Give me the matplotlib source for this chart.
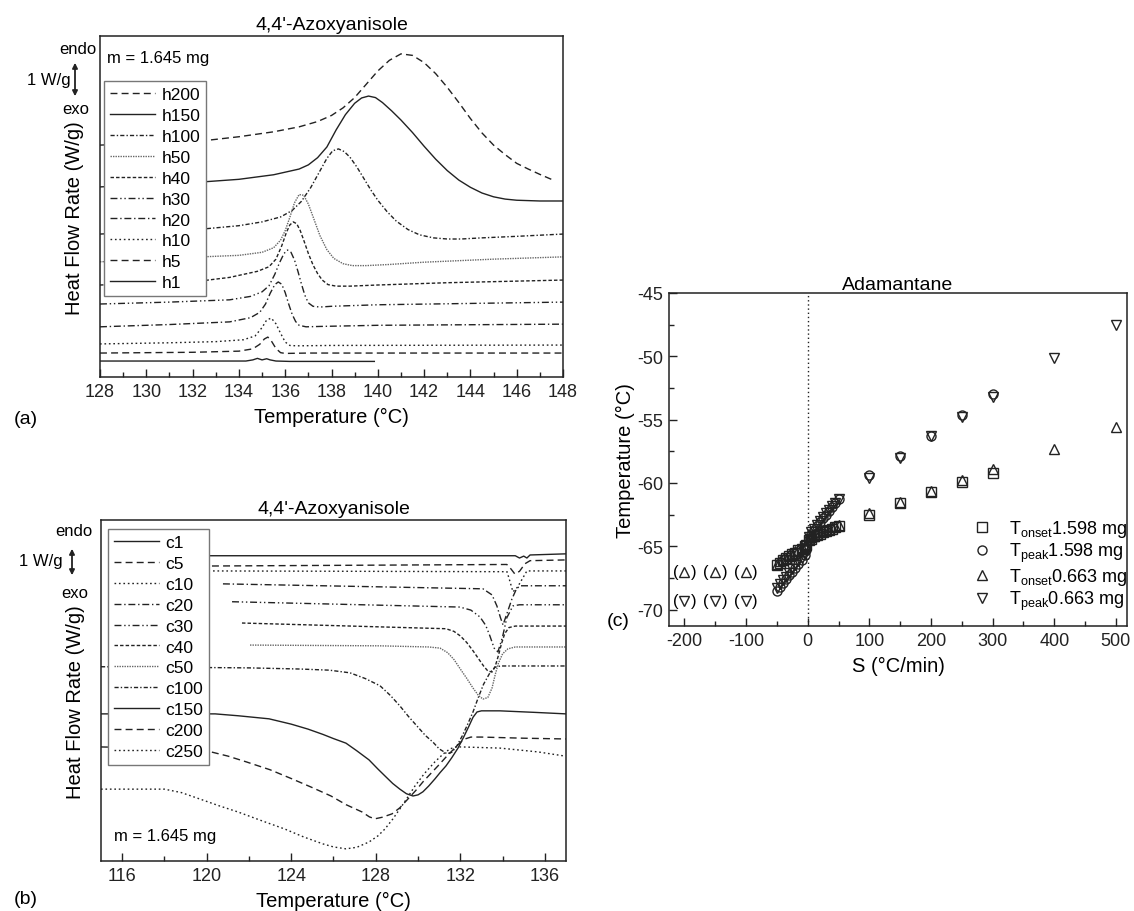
import matplotlib
matplotlib.use("Agg")
import matplotlib.pyplot as plt
from matplotlib.patches import FancyArrowPatch
from matplotlib.ticker import MultipleLocator, NullLocator

plt.rcParams['font.family'] = ['Liberation Sans', 'DejaVu Sans']
plt.rcParams['mathtext.fontset'] = 'custom'
plt.rcParams['mathtext.rm'] = 'Liberation Sans'
plt.rcParams['axes.unicode_minus'] = False

W, H = 1134, 912
INK = '#222222'

# ---------------- (a) heating runs, heat flow in W/g (curves offset as plotted)
h_names = ["h200", "h150", "h100", "h50", "h40", "h30", "h20", "h10", "h5", "h1"]

h200_T = [128, 130, 132.4, 134, 135.5, 136.6, 137.4, 138.0, 138.5, 139.0, 139.5, 140.0, 140.5, 141.0, 141.5, 142.0, 142.5, 143.0, 143.5, 144.0, 144.5, 145.0, 145.5, 146.0, 146.5, 147.0, 147.65]
h200_y = [6.1, 6.15, 6.21, 6.32, 6.45, 6.58, 6.72, 6.88, 7.08, 7.35, 7.7, 8.05, 8.33, 8.5, 8.46, 8.27, 7.98, 7.62, 7.22, 6.8, 6.42, 6.1, 5.85, 5.62, 5.47, 5.33, 5.16]
h150_T = [128, 130, 132.4, 134, 135.5, 136.6, 137.0, 137.4, 137.8, 138.2, 138.6, 139.0, 139.3, 139.6, 139.9, 140.2, 140.6, 141.0, 141.5, 142.0, 142.5, 143.0, 143.5, 144.0, 144.5, 145.0, 145.5, 146.0, 147.0, 148.0]
h150_y = [5.0, 5.06, 5.13, 5.2, 5.32, 5.47, 5.58, 5.77, 6.05, 6.5, 6.9, 7.2, 7.34, 7.39, 7.35, 7.22, 7.0, 6.76, 6.43, 6.07, 5.73, 5.43, 5.18, 4.99, 4.84, 4.74, 4.68, 4.65, 4.63, 4.63]
h100_T = [128, 130, 132.4, 134, 135.0, 135.8, 136.3, 136.7, 137.1, 137.5, 137.8, 138.05, 138.3, 138.55, 138.8, 139.1, 139.4, 139.7, 140.0, 140.4, 140.8, 141.3, 141.8, 142.4, 143.0, 143.6, 144.5, 146.0, 148.0]
h100_y = [3.76, 3.82, 3.89, 3.98, 4.08, 4.21, 4.38, 4.62, 4.98, 5.42, 5.75, 5.95, 6.0, 5.93, 5.78, 5.52, 5.22, 4.92, 4.65, 4.35, 4.1, 3.88, 3.74, 3.66, 3.63, 3.63, 3.66, 3.7, 3.76]
h50_T = [128, 130, 132.4, 134, 135.0, 135.5, 135.8, 136.0, 136.2, 136.4, 136.6, 136.8, 137.0, 137.2, 137.5, 137.8, 138.1, 138.5, 138.9, 139.5, 140.5, 142, 145, 148]
h50_y = [3.03, 3.08, 3.16, 3.2, 3.28, 3.4, 3.6, 3.85, 4.2, 4.58, 4.8, 4.78, 4.55, 4.22, 3.72, 3.35, 3.12, 2.98, 2.93, 2.93, 2.96, 3.02, 3.1, 3.16]
h40_T = [128, 130, 132.4, 133.6, 134.8, 135.3, 135.6, 135.85, 136.05, 136.2, 136.35, 136.5, 136.65, 136.8, 137.0, 137.2, 137.4, 137.6, 137.85, 138.2, 138.8, 140, 143, 148]
h40_y = [2.42, 2.46, 2.53, 2.62, 2.78, 2.9, 3.1, 3.45, 3.8, 4.0, 4.08, 4.03, 3.85, 3.6, 3.25, 2.95, 2.72, 2.55, 2.43, 2.39, 2.39, 2.42, 2.48, 2.55]
h30_T = [128, 131, 133.6, 134.5, 135.0, 135.3, 135.55, 135.75, 135.95, 136.1, 136.25, 136.4, 136.55, 136.7, 136.85, 137.0, 137.2, 137.5, 138, 140, 148]
h30_y = [1.92, 1.97, 2.03, 2.12, 2.24, 2.4, 2.7, 3.0, 3.25, 3.34, 3.28, 3.08, 2.78, 2.45, 2.15, 1.95, 1.86, 1.84, 1.86, 1.9, 1.97]
h20_T = [128, 131, 133.6, 134.5, 134.9, 135.15, 135.35, 135.55, 135.7, 135.85, 136.0, 136.15, 136.3, 136.45, 136.6, 136.9, 137.5, 140, 148]
h20_y = [1.32, 1.38, 1.45, 1.56, 1.7, 1.92, 2.2, 2.43, 2.5, 2.44, 2.22, 1.92, 1.65, 1.46, 1.36, 1.32, 1.33, 1.36, 1.39]
h10_T = [128, 131, 133, 134.2, 134.7, 135.0, 135.2, 135.4, 135.6, 135.8, 136.0, 136.2, 136.5, 138, 148]
h10_y = [0.87, 0.9, 0.93, 0.98, 1.08, 1.3, 1.5, 1.55, 1.4, 1.15, 0.92, 0.83, 0.82, 0.83, 0.84]
h5_T = [128, 132, 134, 134.6, 134.9, 135.1, 135.25, 135.4, 135.6, 135.8, 136.0, 137, 148]
h5_y = [0.63, 0.65, 0.68, 0.74, 0.86, 1.0, 1.05, 0.95, 0.75, 0.64, 0.62, 0.63, 0.63]
h1_T = [128, 134.3, 134.6, 134.8, 135.0, 135.2, 135.35, 135.6, 136.2, 138, 139.85]
h1_y = [0.42, 0.42, 0.45, 0.49, 0.45, 0.48, 0.45, 0.42, 0.41, 0.41, 0.41]

# ---------------- (b) cooling runs
c_names = ["c1", "c5", "c10", "c20", "c30", "c40", "c50", "c100", "c150", "c200", "c250"]

c1_T = [120.06, 134.6, 134.8, 135.0, 135.15, 135.3, 137.0]
c1_y = [8.03, 8.03, 7.97, 8.02, 7.97, 8.05, 8.08]
c5_T = [120.25, 134.2, 134.4, 134.58, 134.8, 135.06, 135.3, 137.0]
c5_y = [7.76, 7.8, 7.68, 7.55, 7.62, 7.82, 7.9, 7.92]
c10_T = [120.3, 134.21, 134.35, 134.49, 134.7, 134.91, 135.15, 137.0]
c10_y = [7.63, 7.61, 7.35, 7.08, 7.2, 7.4, 7.63, 7.63]
c20_T = [120.77, 133.07, 133.5, 133.73, 133.9, 134.02, 134.2, 134.44, 134.65, 134.82, 137.0]
c20_y = [7.29, 7.16, 7.0, 6.71, 6.4, 6.21, 6.5, 6.89, 7.15, 7.24, 7.24]
c30_T = [121.2, 131.98, 132.5, 132.93, 133.2, 133.4, 133.6, 133.78, 134.0, 134.2, 134.49, 134.8, 137.0]
c30_y = [6.82, 6.68, 6.6, 6.42, 6.2, 5.92, 5.6, 5.5, 5.9, 6.4, 6.71, 6.74, 6.74]
c40_T = [121.67, 131.32, 131.7, 132.0, 132.3, 132.6, 132.85, 133.1, 133.3, 133.5, 133.65, 133.8, 133.95, 134.1, 134.3, 134.6, 137.0]
c40_y = [6.26, 6.11, 6.04, 5.92, 5.75, 5.53, 5.33, 5.13, 5.0, 4.97, 5.12, 5.4, 5.72, 5.98, 6.14, 6.18, 6.18]
c50_T = [122.05, 128.2, 130.5, 131.04, 131.4, 131.7, 132.0, 132.31, 132.6, 132.85, 133.07, 133.3, 133.5, 133.65, 133.8, 134.0, 134.25, 134.6, 137.0]
c50_y = [5.68, 5.66, 5.63, 5.6, 5.48, 5.3, 5.05, 4.8, 4.55, 4.36, 4.26, 4.3, 4.55, 4.9, 5.2, 5.45, 5.58, 5.63, 5.63]
c100_T = [115.0, 122.0, 124.41, 125.8, 126.78, 127.5, 128.2, 128.7, 129.14, 129.55, 129.95, 130.35, 130.7, 131.0, 131.37, 131.6, 131.84, 132.1, 132.31, 132.6, 132.85, 133.1, 133.4, 133.65, 133.9, 137.0]
c100_y = [5.11, 5.08, 5.05, 5.02, 4.95, 4.8, 4.61, 4.35, 4.08, 3.8, 3.55, 3.3, 3.13, 2.95, 2.82, 2.86, 3.03, 3.3, 3.55, 3.92, 4.3, 4.65, 4.95, 5.1, 5.13, 5.13]
c150_T = [115.0, 120.4, 121.5, 122.95, 124.0, 124.79, 125.5, 126.0, 126.59, 127.1, 127.68, 128.1, 128.43, 128.8, 129.14, 129.45, 129.76, 130.0, 130.23, 130.5, 130.8, 131.05, 131.32, 131.6, 131.89, 132.15, 132.41, 132.6, 132.79, 133.0, 133.87, 135.5, 137.0]
c150_y = [3.87, 3.87, 3.82, 3.74, 3.6, 3.47, 3.33, 3.22, 3.1, 2.9, 2.66, 2.42, 2.24, 2.04, 1.89, 1.77, 1.71, 1.74, 1.82, 1.97, 2.16, 2.33, 2.5, 2.72, 2.97, 3.25, 3.55, 3.78, 3.92, 3.95, 3.95, 3.91, 3.87]
c200_T = [115.0, 118.0, 120.06, 121.0, 121.86, 123.0, 124.04, 125.0, 125.88, 126.6, 127.35, 127.7, 127.96, 128.3, 128.77, 129.14, 129.52, 129.9, 130.23, 130.6, 130.94, 131.3, 131.7, 132.0, 132.22, 132.5, 133.0, 135.0, 137.0]
c200_y = [3.0, 2.97, 2.89, 2.76, 2.61, 2.4, 2.16, 1.93, 1.71, 1.48, 1.29, 1.16, 1.11, 1.15, 1.24, 1.4, 1.63, 1.86, 2.08, 2.3, 2.5, 2.72, 2.95, 3.12, 3.21, 3.26, 3.26, 3.23, 3.21]
c250_T = [115.0, 118.0, 118.8, 119.68, 120.6, 121.48, 122.6, 123.7, 124.6, 125.5, 126.0, 126.59, 127.1, 127.68, 128.1, 128.43, 128.8, 129.14, 129.5, 129.85, 130.3, 130.8, 131.2, 131.51, 131.8, 132.08, 133.87, 135.67, 136.95]
c250_y = [1.89, 1.89, 1.8, 1.63, 1.45, 1.29, 1.06, 0.84, 0.63, 0.45, 0.37, 0.32, 0.36, 0.5, 0.66, 0.84, 1.1, 1.37, 1.67, 1.97, 2.3, 2.61, 2.82, 2.95, 3.0, 3.0, 2.97, 2.87, 2.76]

# ---------------- (c) adamantane, onset / peak temperatures vs scan rate
S_1598 = [-50, -45, -40, -35, -30, -25, -20, -15, -10, -5, -2, 2, 5, 10, 15, 20, 25, 30, 35, 40, 45, 50, 100, 150, 200, 250, 300]
onset_1598 = [-66.5, -66.3, -66.1, -65.9, -65.8, -65.6, -65.5, -65.3, -65.2, -65.0, -64.9, -64.5, -64.4, -64.2, -64.1, -64.0, -63.9, -63.8, -63.7, -63.6, -63.5, -63.4, -62.5, -61.6, -60.7, -59.9, -59.2]
peak_1598 = [-68.5, -68.2, -67.9, -67.6, -67.3, -67.0, -66.7, -66.4, -66.1, -65.7, -65.3, -64.4, -64.0, -63.7, -63.4, -63.1, -62.8, -62.5, -62.2, -61.9, -61.6, -61.3, -59.4, -57.9, -56.3, -54.6, -53.0]
S_0663 = [-50, -45, -40, -35, -30, -25, -20, -15, -10, -5, -2, 2, 5, 10, 15, 20, 25, 30, 35, 40, 45, 50, 100, 150, 200, 250, 300, 400, 500]
onset_0663 = [-66.4, -66.2, -66.0, -65.9, -65.7, -65.6, -65.4, -65.3, -65.1, -65.0, -64.8, -64.4, -64.3, -64.2, -64.0, -63.9, -63.8, -63.7, -63.6, -63.5, -63.4, -63.3, -62.4, -61.5, -60.6, -59.8, -58.9, -57.3, -55.6]
peak_0663 = [-68.3, -68.0, -67.7, -67.4, -67.1, -66.8, -66.5, -66.2, -65.9, -65.6, -65.2, -64.3, -63.9, -63.6, -63.3, -63.0, -62.7, -62.4, -62.1, -61.8, -61.6, -61.3, -59.6, -58.0, -56.3, -54.8, -53.2, -50.1, -47.5]
# bracketed (uncertain) points at large cooling rates
S_brk = [-200, -150, -100]
onset_brk = [-67.0, -67.0, -67.0]
peak_brk = [-69.3, -69.3, -69.3]

# Origin-like line style cycle
styles = ['-', (0, (5, 3)), (0, (1.2, 2)), (0, (5, 2, 1, 2)), (0, (5, 2, 1, 2, 1, 2)),
          (0, (2.5, 1.5)), (0, (1, 0.8)), (0, (3, 1.5, 1, 1.5)), '-', (0, (5, 3)), (0, (1.2, 2))]
greys = [INK, INK, INK, INK, INK, INK, '#666666', INK, INK, INK, INK]


def px_rect(l, t, r, b):
    return [l / W, 1 - b / H, (r - l) / W, (b - t) / H]


def ftext(x, y, s, **kw):
    fig.text(x / W, 1 - y / H, s, **kw)


def style_axes(ax):
    for sp in ax.spines.values():
        sp.set_color(INK)
        sp.set_linewidth(1.1)
    ax.tick_params(which='both', direction='in', colors=INK, labelsize=13, top=False, right=False)
    ax.tick_params(which='major', length=6, width=1, pad=4)
    ax.tick_params(which='minor', length=3.5, width=1)


def updown(x, y_top, y_bot):
    fig.add_artist(FancyArrowPatch((x / W, 1 - y_bot / H), (x / W, 1 - y_top / H),
                                   transform=fig.transFigure,
                                   arrowstyle='<|-|>,head_length=3,head_width=1.5', color=INK, lw=1.3))


fig = plt.figure(figsize=(W / 100, H / 100), dpi=100)
leg_kw = dict(loc='upper left', borderaxespad=0, fontsize=12.5, handlelength=2.6, handletextpad=0.35,
              labelspacing=0.33, borderpad=0.35, frameon=True, fancybox=False, framealpha=1,
              edgecolor='#777777')

# ---- panel (a)
ax = fig.add_axes(px_rect(100, 37, 563, 378))
h_T = [h200_T, h150_T, h100_T, h50_T, h40_T, h30_T, h20_T, h10_T, h5_T, h1_T]
h_y = [h200_y, h150_y, h100_y, h50_y, h40_y, h30_y, h20_y, h10_y, h5_y, h1_y]
n = len(h_names)
for i, (name, xs, ys) in enumerate(zip(h_names, h_T, h_y)):
    k = n - 1 - i
    ax.plot(xs, ys, ls=styles[k], color=greys[k], lw=1.0, label=name)
ax.set_xlim(128, 148)
ax.set_ylim(0, 8.97)
ax.xaxis.set_major_locator(MultipleLocator(2))
ax.xaxis.set_minor_locator(MultipleLocator(1))
ax.yaxis.set_major_locator(NullLocator())
style_axes(ax)
ax.set_title("4,4'-Azoxyanisole", fontsize=14, pad=5)
ax.set_xlabel("Temperature (°C)", fontsize=14.5, labelpad=5)
ax.set_ylabel("Heat Flow Rate (W/g)", fontsize=14.5)
ax.yaxis.set_label_coords(-0.034, 0.47)
leg = ax.legend(bbox_to_anchor=(0.0086, 0.868), **leg_kw)
leg.get_frame().set_linewidth(1.0)
ftext(107, 58, "m = 1.645 mg", fontsize=12, ha='left', va='center')
ftext(97, 50, "endo", fontsize=12, ha='right', va='center')
ftext(71, 80, "1 W/g", fontsize=12, ha='right', va='center')
ftext(89, 110, "exo", fontsize=12, ha='right', va='center')
updown(75, 61, 100)
ftext(14, 420, "(a)", fontsize=14, ha='left', va='center')

# ---- panel (b)
bx = fig.add_axes(px_rect(101, 521, 566, 862))
c_T = [c1_T, c5_T, c10_T, c20_T, c30_T, c40_T, c50_T, c100_T, c150_T, c200_T, c250_T]
c_y = [c1_y, c5_y, c10_y, c20_y, c30_y, c40_y, c50_y, c100_y, c150_y, c200_y, c250_y]
for k, (name, xs, ys) in enumerate(zip(c_names, c_T, c_y)):
    bx.plot(xs, ys, ls=styles[k], color=greys[k], lw=1.0, label=name)
bx.set_xlim(115, 137)
bx.set_ylim(0, 8.97)
bx.xaxis.set_major_locator(MultipleLocator(4))
bx.xaxis.set_minor_locator(MultipleLocator(2))
bx.yaxis.set_major_locator(NullLocator())
style_axes(bx)
bx.set_title("4,4'-Azoxyanisole", fontsize=14, pad=5)
bx.set_xlabel("Temperature (°C)", fontsize=14.5, labelpad=5)
bx.set_ylabel("Heat Flow Rate (W/g)", fontsize=14.5)
bx.yaxis.set_label_coords(-0.034, 0.47)
leg = bx.legend(bbox_to_anchor=(0.015, 0.974), **leg_kw)
leg.get_frame().set_linewidth(1.0)
ftext(114, 837, "m = 1.645 mg", fontsize=12, ha='left', va='center')
ftext(93, 532, "endo", fontsize=12, ha='right', va='center')
ftext(63, 562, "1 W/g", fontsize=12, ha='right', va='center')
ftext(88, 593, "exo", fontsize=12, ha='right', va='center')
updown(72, 547, 579)
ftext(14, 900, "(b)", fontsize=14, ha='left', va='center')

# ---- panel (c)
cx = fig.add_axes(px_rect(669, 294, 1127, 627))
mk = dict(ls='none', mfc='none', mec=INK, ms=6.5, mew=1.0)
cx.axvline(0, color=INK, lw=1.0, ls=(0, (1, 2)))
cx.plot(S_1598, onset_1598, marker='s', label=r"T$_{\mathrm{onset}}$1.598 mg", **mk)
cx.plot(S_1598, peak_1598, marker='o', label=r"T$_{\mathrm{peak}}$1.598 mg", **mk)
cx.plot(S_0663, onset_0663, marker='^', label=r"T$_{\mathrm{onset}}$0.663 mg", **mk)
cx.plot(S_0663, peak_0663, marker='v', label=r"T$_{\mathrm{peak}}$0.663 mg", **mk)
cx.plot(S_brk, onset_brk, marker='^', **mk)
cx.plot(S_brk, peak_brk, marker='v', **mk)
for s, t in zip(S_brk + S_brk, onset_brk + peak_brk):
    cx.annotate("(", (s, t), xytext=(-4.5, 0), textcoords='offset points', ha='right', va='center', fontsize=12)
    cx.annotate(")", (s, t), xytext=(4.5, 0), textcoords='offset points', ha='left', va='center', fontsize=12)
cx.set_xlim(-225, 518)
cx.set_ylim(-71.3, -45)
cx.xaxis.set_major_locator(MultipleLocator(100))
cx.xaxis.set_minor_locator(MultipleLocator(50))
cx.yaxis.set_major_locator(MultipleLocator(5))
cx.yaxis.set_minor_locator(MultipleLocator(2.5))
style_axes(cx)
cx.set_title("Adamantane", fontsize=14, pad=3)
cx.set_xlabel("S (°C/min)", fontsize=14.5, labelpad=5)
cx.set_ylabel("Temperature (°C)", fontsize=14.5, labelpad=2)
cx.legend(loc='lower right', bbox_to_anchor=(1.025, 0.01), frameon=False, fontsize=13,
          handlelength=1.0, handletextpad=1.0, labelspacing=0.1, borderaxespad=0.2)
ftext(607, 621, "(c)", fontsize=14, ha='left', va='center')

fig.savefig("out.png", dpi=100)
